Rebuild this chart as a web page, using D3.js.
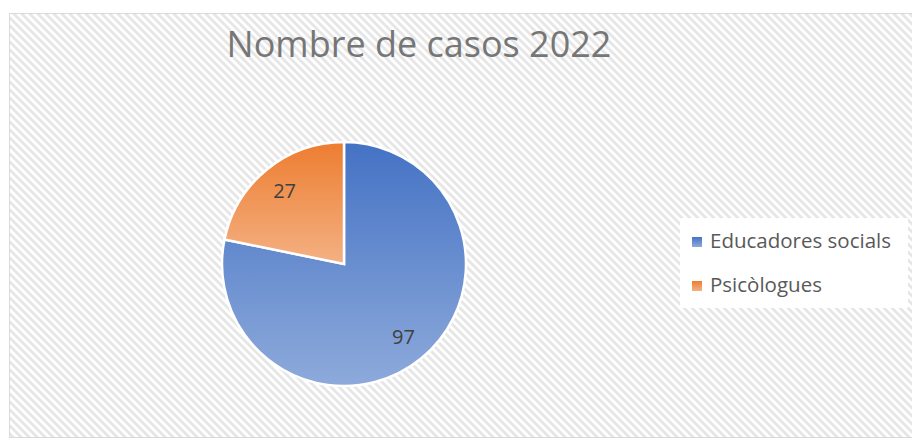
<!DOCTYPE html>
<html>
<head>
<meta charset="utf-8">
<script src="https://cdn.jsdelivr.net/npm/d3@7"></script>
<style>
  body { margin: 0; background: #fff; }
  svg { display: block; }
</style>
</head>
<body>
<script>
  const title = 'Nombre de casos 2022';
  const categories = ['Educadores socials', 'Psicòlogues'];
  const values = [97, 27];
  const topColors = ['#4472c4', '#ed7d31'];
  const bottomColors = ['#8eaadb', '#f4b183'];

  const width = 912;
  const height = 439;

  const svg = d3.select('body')
    .append('svg')
    .attr('width', width)
    .attr('height', height);

  const defs = svg.append('defs');

  // Excel-like wide downward diagonal hatch
  const pattern = defs.append('pattern')
    .attr('id', 'hatch')
    .attr('patternUnits', 'userSpaceOnUse')
    .attr('width', 8)
    .attr('height', 8);
  pattern.append('rect')
    .attr('width', 8)
    .attr('height', 8)
    .attr('fill', '#fff');
  pattern.append('path')
    .attr('d', 'M-2,-2 L10,10 M-2,6 L2,10 M6,-2 L10,2')
    .attr('stroke', '#e6e6e6')
    .attr('stroke-width', 2.8);

  const grads = defs.selectAll('linearGradient')
    .data(categories)
    .join('linearGradient')
    .attr('id', (d, i) => `grad${i}`)
    .attr('x1', 0).attr('y1', 0)
    .attr('x2', 0).attr('y2', 1);
  grads.append('stop')
    .attr('offset', '0%')
    .attr('stop-color', (d, i) => topColors[i]);
  grads.append('stop')
    .attr('offset', '100%')
    .attr('stop-color', (d, i) => bottomColors[i]);

  // chart area
  svg.append('rect')
    .attr('x', 9.5)
    .attr('y', 13.5)
    .attr('width', 905)
    .attr('height', 424)
    .attr('fill', 'url(#hatch)')
    .attr('stroke', '#d9d9d9')
    .attr('stroke-width', 1);

  svg.append('text')
    .attr('x', 419)
    .attr('y', 57)
    .attr('text-anchor', 'middle')
    .attr('font-family', '"Open Sans", sans-serif')
    .attr('font-size', 36)
    .attr('fill', '#767676')
    .text(title);

  // pie
  const cx = 344;
  const cy = 264;
  const radius = 122;

  const pie = d3.pie().sort(null).value((d) => d);
  const arcs = pie(values);
  const arc = d3.arc().innerRadius(0).outerRadius(radius);
  const labelArc = d3.arc().innerRadius(94).outerRadius(94);

  const g = svg.append('g')
    .attr('transform', `translate(${cx},${cy})`);

  g.selectAll('path')
    .data(arcs)
    .join('path')
    .attr('d', arc)
    .attr('fill', (d, i) => `url(#grad${i})`)
    .attr('stroke', '#fff')
    .attr('stroke-width', 2.5)
    .attr('stroke-linejoin', 'miter');

  g.selectAll('text')
    .data(arcs)
    .join('text')
    .attr('transform', (d) => `translate(${labelArc.centroid(d)})`)
    .attr('text-anchor', 'middle')
    .attr('dy', '0.36em')
    .attr('font-family', '"Open Sans", sans-serif')
    .attr('font-size', 20)
    .attr('fill', '#404040')
    .text((d) => d.data);

  // legend
  const legend = svg.append('g');
  legend.append('rect')
    .attr('x', 680)
    .attr('y', 218)
    .attr('width', 228)
    .attr('height', 90)
    .attr('fill', '#fff');

  const items = legend.selectAll('g')
    .data(categories)
    .join('g')
    .attr('transform', (d, i) => `translate(692,${237 + i * 44})`);

  items.append('rect')
    .attr('width', 10)
    .attr('height', 10)
    .attr('fill', (d, i) => `url(#grad${i})`);

  items.append('text')
    .attr('x', 18)
    .attr('y', 11)
    .attr('font-family', '"Open Sans", sans-serif')
    .attr('font-size', 20.5)
    .attr('fill', '#595959')
    .text((d) => d);
</script>
</body>
</html>
